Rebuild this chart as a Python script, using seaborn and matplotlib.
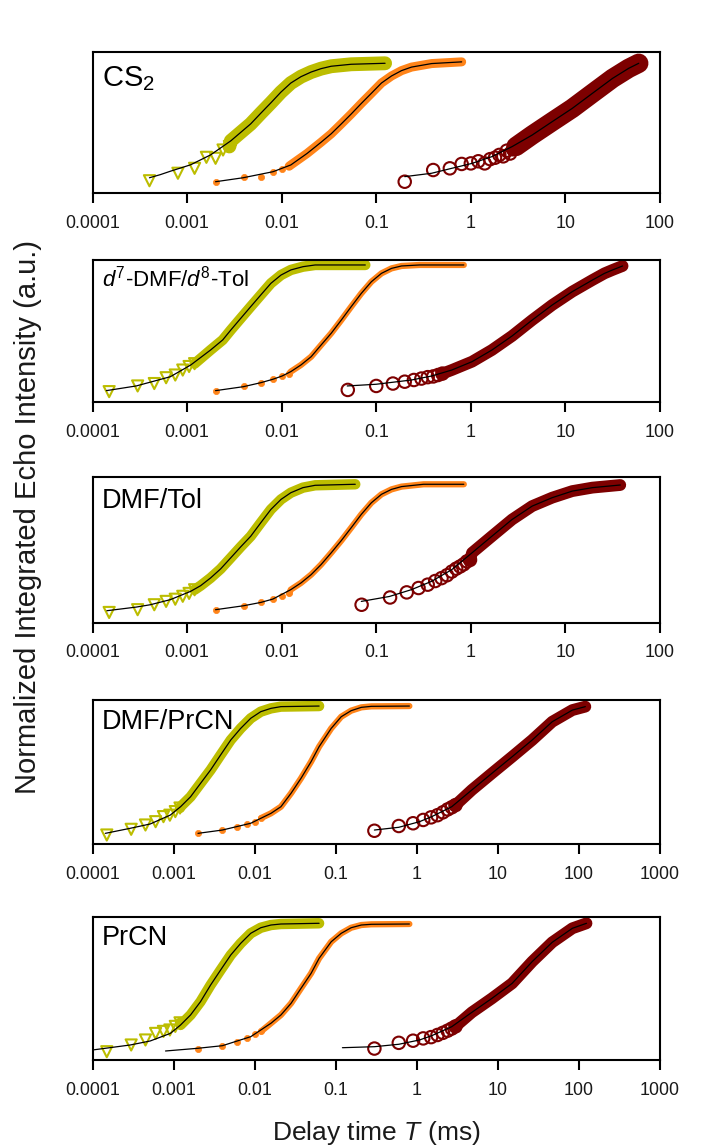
import matplotlib
matplotlib.use("Agg")
import matplotlib.pyplot as plt
from matplotlib.ticker import NullLocator, FixedLocator, FixedFormatter
import seaborn as sns

# ---------------- data ----------------
# Delay times T (ms) and normalized echo intensities I.
# *_FIT_* : fitted curve (black line); *_PTS_* : sparse early data points;
# the later data are dense and drawn as a band along the fitted curve.

# Panel 1: CS2
CS2_TRI_FIT_T = [0.0004, 0.00052, 0.00067, 0.00109, 0.00177, 0.0029, 0.0047, 0.006, 0.0077,
                 0.0098, 0.0125, 0.016, 0.0205, 0.0261, 0.0334, 0.0543, 0.124]
CS2_TRI_FIT_I = [0.108, 0.13, 0.155, 0.2, 0.27, 0.37, 0.49, 0.565, 0.64,
                 0.715, 0.78, 0.825, 0.858, 0.882, 0.899, 0.913, 0.92]
CS2_TRI_PTS_T = [0.0004, 0.0008, 0.0012, 0.0016, 0.002, 0.0024, 0.0028]
CS2_TRI_PTS_I = [0.087, 0.14, 0.175, 0.253, 0.246, 0.305, 0.33]
CS2_ORG_FIT_T = [0.002, 0.0039, 0.0081, 0.0125, 0.0186, 0.0261, 0.0334, 0.0427, 0.0543,
                 0.0695, 0.0888, 0.1135, 0.145, 0.185, 0.236, 0.385, 0.8]
CS2_ORG_FIT_I = [0.08, 0.108, 0.151, 0.199, 0.281, 0.36, 0.42, 0.49, 0.56,
                 0.635, 0.707, 0.78, 0.83, 0.868, 0.893, 0.918, 0.93]
CS2_ORG_PTS_T = [0.002, 0.004, 0.006, 0.008, 0.01, 0.012]
CS2_ORG_PTS_I = [0.08, 0.11, 0.11, 0.15, 0.17, 0.19]
CS2_RED_FIT_T = [0.2, 0.385, 0.628, 1.03, 1.67, 2.73, 4.45, 7.25, 11.8, 19.3, 31.5, 46.6, 59.6]
CS2_RED_FIT_I = [0.116, 0.14, 0.175, 0.21, 0.258, 0.329, 0.411, 0.506, 0.60, 0.707, 0.813,
                 0.884, 0.92]
CS2_RED_PTS_T = [0.2, 0.4, 0.6, 0.8, 1.0, 1.2, 1.4, 1.6, 1.8, 2.0, 2.2, 2.4, 2.6, 2.8, 3.0]
CS2_RED_PTS_I = [0.08, 0.163, 0.175, 0.206, 0.21, 0.225, 0.21, 0.24, 0.25, 0.27, 0.26,
                 0.3, 0.28, 0.31, 0.33]

# Panel 2: d7-DMF/d8-Tol
DTOL_TRI_FIT_T = [0.00014, 0.00029, 0.000665, 0.00109, 0.00177, 0.00238, 0.0029, 0.00369,
                  0.0047, 0.00602, 0.0077, 0.00984, 0.0125, 0.0168, 0.0226, 0.0766]
DTOL_TRI_FIT_I = [0.08, 0.113, 0.178, 0.26, 0.366, 0.437, 0.507, 0.589,
                  0.671, 0.754, 0.836, 0.894, 0.93, 0.953, 0.965, 0.965]
DTOL_TRI_PTS_T = [0.00015, 0.0003, 0.00045, 0.0006, 0.00075, 0.0009, 0.00105, 0.0012]
DTOL_TRI_PTS_I = [0.073, 0.113, 0.13, 0.171, 0.19, 0.225, 0.25, 0.27]
DTOL_ORG_FIT_T = [0.002, 0.00395, 0.00602, 0.00807, 0.0101, 0.0125, 0.016, 0.0205, 0.0261,
                  0.0334, 0.0427, 0.0543, 0.0695, 0.0888, 0.1135, 0.145, 0.185, 0.287, 0.843]
DTOL_ORG_FIT_I = [0.08, 0.108, 0.136, 0.16, 0.183, 0.214, 0.261, 0.319, 0.401,
                  0.484, 0.577, 0.671, 0.765, 0.847, 0.906, 0.941, 0.958, 0.965, 0.965]
DTOL_ORG_PTS_T = [0.002, 0.004, 0.006, 0.008, 0.01, 0.012]
DTOL_ORG_PTS_I = [0.08, 0.115, 0.136, 0.16, 0.185, 0.2]
DTOL_RED_FIT_T = [0.0493, 0.1, 0.236, 0.385, 0.628, 1.03, 1.67, 2.73, 4.45, 7.25, 11.8,
                  19.3, 25.9, 31.5, 40.2]
DTOL_RED_FIT_I = [0.113, 0.125, 0.155, 0.183, 0.225, 0.284, 0.366, 0.465, 0.577, 0.683,
                  0.777, 0.859, 0.906, 0.93, 0.958]
DTOL_RED_PTS_T = [0.05, 0.1, 0.15, 0.2, 0.25, 0.3, 0.35, 0.4, 0.45, 0.5]
DTOL_RED_PTS_I = [0.085, 0.113, 0.13, 0.143, 0.155, 0.165, 0.175, 0.18, 0.19, 0.2]

# Panel 3: DMF/Tol
TOL_TRI_FIT_T = [0.000142, 0.00029, 0.000408, 0.000665, 0.00109, 0.00139, 0.00177, 0.00226,
                 0.00289, 0.00369, 0.00471, 0.00602, 0.00769, 0.00984, 0.0125, 0.0168,
                 0.0226, 0.06]
TOL_TRI_FIT_I = [0.081, 0.106, 0.122, 0.157, 0.214, 0.253, 0.306, 0.368,
                 0.444, 0.52, 0.593, 0.686, 0.777, 0.846, 0.892, 0.927,
                 0.943, 0.95]
TOL_TRI_PTS_T = [0.00015, 0.0003, 0.00045, 0.0006, 0.00075, 0.0009, 0.00105, 0.0012]
TOL_TRI_PTS_I = [0.069, 0.088, 0.122, 0.145, 0.16, 0.18, 0.2, 0.225]
TOL_ORG_FIT_T = [0.002, 0.00395, 0.00602, 0.00807, 0.0125, 0.016, 0.0205, 0.0261, 0.0334,
                 0.0427, 0.0543, 0.0695, 0.0888, 0.1135, 0.145, 0.185, 0.316, 0.843]
TOL_ORG_FIT_I = [0.088, 0.115, 0.138, 0.161, 0.226, 0.272, 0.329, 0.398, 0.479,
                 0.563, 0.651, 0.743, 0.823, 0.881, 0.915, 0.934, 0.95, 0.95]
TOL_ORG_PTS_T = [0.002, 0.004, 0.006, 0.008, 0.01, 0.012]
TOL_ORG_PTS_I = [0.088, 0.11, 0.138, 0.16, 0.185, 0.2]
TOL_RED_FIT_T = [0.0695, 0.138, 0.236, 0.385, 0.628, 1.03, 1.67, 2.73, 4.45, 7.25, 11.8,
                 19.3, 38]
TOL_RED_FIT_I = [0.145, 0.179, 0.226, 0.283, 0.363, 0.479, 0.593, 0.708, 0.80, 0.858,
                 0.903, 0.927, 0.945]
TOL_RED_PTS_T = [0.07, 0.14, 0.21, 0.28, 0.35, 0.42, 0.49, 0.56, 0.63, 0.7, 0.77, 0.84,
                 0.91, 0.98]
TOL_RED_PTS_I = [0.122, 0.172, 0.207, 0.237, 0.26, 0.285, 0.305, 0.325, 0.35, 0.37, 0.385,
                 0.4, 0.42, 0.43]

# Panel 4: DMF/PrCN
DPR_TRI_FIT_T = [0.000144, 0.000292, 0.000515, 0.000912, 0.00122, 0.00162, 0.00215, 0.00286,
                 0.0038, 0.00507, 0.00673, 0.00895, 0.0119, 0.0159, 0.0211, 0.0624]
DPR_TRI_FIT_I = [0.074, 0.109, 0.139, 0.201, 0.259, 0.328, 0.421, 0.514,
                 0.618, 0.722, 0.803, 0.873, 0.919, 0.942, 0.954, 0.958]
DPR_TRI_PTS_T = [0.00015, 0.0003, 0.00045, 0.0006, 0.00075, 0.0009, 0.00105, 0.0012]
DPR_TRI_PTS_I = [0.0625, 0.102, 0.132, 0.155, 0.19, 0.2, 0.225, 0.25]
DPR_ORG_FIT_T = [0.002, 0.004, 0.00895, 0.0159, 0.0211, 0.0281, 0.0373, 0.0497, 0.0624,
                 0.088, 0.117, 0.155, 0.207, 0.275, 0.81]
DPR_ORG_FIT_I = [0.074, 0.097, 0.144, 0.213, 0.259, 0.352, 0.456, 0.572, 0.676,
                 0.803, 0.884, 0.926, 0.949, 0.956, 0.958]
DPR_ORG_PTS_T = [0.002, 0.004, 0.006, 0.008, 0.01, 0.012]
DPR_ORG_PTS_I = [0.074, 0.097, 0.12, 0.139, 0.155, 0.18]
DPR_RED_FIT_T = [0.3, 0.6, 1.08, 1.53, 2.7, 4.77, 8.45, 15, 26.5, 46.8, 83, 120]
DPR_RED_FIT_I = [0.097, 0.116, 0.155, 0.19, 0.259, 0.375, 0.491, 0.606, 0.722, 0.849,
                 0.93, 0.954]
DPR_RED_PTS_T = [0.3, 0.6, 0.9, 1.2, 1.5, 1.8, 2.1, 2.4, 2.7, 3.0]
DPR_RED_PTS_I = [0.092, 0.125, 0.144, 0.167, 0.185, 0.2, 0.22, 0.24, 0.255, 0.27]

# Panel 5: PrCN
PR_TRI_FIT_T = [0.0001, 0.000292, 0.000515, 0.000912, 0.00122, 0.00162, 0.00215, 0.00286,
                0.0038, 0.00507, 0.00673, 0.00895, 0.0119, 0.0159, 0.0211, 0.0624]
PR_TRI_FIT_I = [0.07, 0.105, 0.133, 0.186, 0.245, 0.315, 0.408, 0.524,
                0.629, 0.734, 0.816, 0.886, 0.925, 0.944, 0.951, 0.956]
PR_TRI_PTS_T = [0.00015, 0.0003, 0.00045, 0.0006, 0.00075, 0.0009, 0.00105, 0.0012]
PR_TRI_PTS_I = [0.058, 0.105, 0.14, 0.186, 0.2, 0.21, 0.235, 0.26]
PR_ORG_FIT_T = [0.000796, 0.002, 0.004, 0.00895, 0.0159, 0.0211, 0.0281, 0.0373, 0.0497,
                0.0624, 0.088, 0.117, 0.155, 0.207, 0.275, 0.81]
PR_ORG_FIT_I = [0.063, 0.082, 0.1, 0.163, 0.257, 0.315, 0.396, 0.501, 0.606,
                0.711, 0.827, 0.886, 0.925, 0.944, 0.949, 0.951]
PR_ORG_PTS_T = [0.002, 0.004, 0.006, 0.008, 0.01, 0.012]
PR_ORG_PTS_I = [0.077, 0.1, 0.123, 0.151, 0.18, 0.2]
PR_RED_FIT_T = [0.121, 0.3, 0.6, 1.08, 1.53, 2.7, 4.77, 8.45, 15, 26.5, 46.8, 83, 124]
PR_RED_FIT_I = [0.086, 0.093, 0.11, 0.14, 0.17, 0.233, 0.333, 0.431, 0.536, 0.688, 0.823,
                0.921, 0.956]
PR_RED_PTS_T = [0.3, 0.6, 0.9, 1.2, 1.5, 1.8, 2.1, 2.4, 2.7, 3.0]
PR_RED_PTS_I = [0.08, 0.12, 0.135, 0.151, 0.16, 0.175, 0.19, 0.205, 0.22, 0.235]

PANEL_LABELS = ["CS$_2$", "$d^7$-DMF/$d^8$-Tol", "DMF/Tol", "DMF/PrCN", "PrCN"]
TICKS_6 = [1e-4, 1e-3, 1e-2, 1e-1, 1, 10, 100]
TICKS_7 = [1e-4, 1e-3, 1e-2, 1e-1, 1, 10, 100, 1000]
TICK_LABELS_6 = ["0.0001", "0.001", "0.01", "0.1", "1", "10", "100"]
TICK_LABELS_7 = ["0.0001", "0.001", "0.01", "0.1", "1", "10", "100", "1000"]

# ---------------- style ----------------
sns.set_style("white")
plt.rcParams["font.family"] = ["Liberation Sans", "DejaVu Sans"]
plt.rcParams["mathtext.fontset"] = "custom"
plt.rcParams["mathtext.rm"] = "Liberation Sans"
plt.rcParams["mathtext.it"] = "Liberation Sans:italic"
plt.rcParams["mathtext.bf"] = "Liberation Sans:bold"

C_TRI = "#bcbd00"
C_ORG = "#ff8419"
C_RED = "#7d0000"

panels = [
    dict(series=[(CS2_TRI_FIT_T, CS2_TRI_FIT_I, CS2_TRI_PTS_T, CS2_TRI_PTS_I),
                 (CS2_ORG_FIT_T, CS2_ORG_FIT_I, CS2_ORG_PTS_T, CS2_ORG_PTS_I),
                 (CS2_RED_FIT_T, CS2_RED_FIT_I, CS2_RED_PTS_T, CS2_RED_PTS_I)],
         ticks=TICKS_6, labels=TICK_LABELS_6, top=52, bottom=193,
         band=(10, 6.5, 14), lab_fs=21, lab_y=0.755),
    dict(series=[(DTOL_TRI_FIT_T, DTOL_TRI_FIT_I, DTOL_TRI_PTS_T, DTOL_TRI_PTS_I),
                 (DTOL_ORG_FIT_T, DTOL_ORG_FIT_I, DTOL_ORG_PTS_T, DTOL_ORG_PTS_I),
                 (DTOL_RED_FIT_T, DTOL_RED_FIT_I, DTOL_RED_PTS_T, DTOL_RED_PTS_I)],
         ticks=TICKS_6, labels=TICK_LABELS_6, top=260, bottom=402,
         band=(7.5, 4.5, 8.5), lab_fs=16, lab_y=0.81),
    dict(series=[(TOL_TRI_FIT_T, TOL_TRI_FIT_I, TOL_TRI_PTS_T, TOL_TRI_PTS_I),
                 (TOL_ORG_FIT_T, TOL_ORG_FIT_I, TOL_ORG_PTS_T, TOL_ORG_PTS_I),
                 (TOL_RED_FIT_T, TOL_RED_FIT_I, TOL_RED_PTS_T, TOL_RED_PTS_I)],
         ticks=TICKS_6, labels=TICK_LABELS_6, top=477, bottom=622.5,
         band=(7.5, 4.5, 8.5), lab_fs=19.5, lab_y=0.79),
    dict(series=[(DPR_TRI_FIT_T, DPR_TRI_FIT_I, DPR_TRI_PTS_T, DPR_TRI_PTS_I),
                 (DPR_ORG_FIT_T, DPR_ORG_FIT_I, DPR_ORG_PTS_T, DPR_ORG_PTS_I),
                 (DPR_RED_FIT_T, DPR_RED_FIT_I, DPR_RED_PTS_T, DPR_RED_PTS_I)],
         ticks=TICKS_7, labels=TICK_LABELS_7, top=700, bottom=844,
         band=(7.5, 4.5, 8.5), lab_fs=19.5, lab_y=0.797),
    dict(series=[(PR_TRI_FIT_T, PR_TRI_FIT_I, PR_TRI_PTS_T, PR_TRI_PTS_I),
                 (PR_ORG_FIT_T, PR_ORG_FIT_I, PR_ORG_PTS_T, PR_ORG_PTS_I),
                 (PR_RED_FIT_T, PR_RED_FIT_I, PR_RED_PTS_T, PR_RED_PTS_I)],
         ticks=TICKS_7, labels=TICK_LABELS_7, top=917, bottom=1060,
         band=(7.5, 4.5, 8.5), lab_fs=19.5, lab_y=0.804),
]

W, H = 721, 1148
fig = plt.figure(figsize=(W / 100, H / 100), dpi=100)
LEFT, RIGHT = 92.5, 660

colors = [C_TRI, C_ORG, C_RED]
markers = ["v", "o", "o"]
sizes = [64, 20, 80]
filled = [False, True, False]

for p, label in zip(panels, PANEL_LABELS):
    ax = fig.add_axes([LEFT / W, 1 - p["bottom"] / H, (RIGHT - LEFT) / W,
                       (p["bottom"] - p["top"]) / H])
    ax.set_xscale("log")
    for k, (ft, fi, pt, pi) in enumerate(p["series"]):
        col = colors[k]
        # dense data band: from the last sparse point along the fitted curve
        bt = [pt[-1]] + [t for t in ft if t > pt[-1]]
        bi = [pi[-1]] + [v for t, v in zip(ft, fi) if t > pt[-1]]
        sns.lineplot(x=bt, y=bi, ax=ax, color=col, lw=p["band"][k],
                     sort=False, estimator=None, solid_capstyle="round",
                     solid_joinstyle="round", zorder=2)
        if filled[k]:
            sns.scatterplot(x=pt, y=pi, ax=ax, marker=markers[k], s=sizes[k],
                            color=col, edgecolor=col, linewidth=0.5, zorder=3)
        else:
            sns.scatterplot(x=pt, y=pi, ax=ax, marker=markers[k], s=sizes[k],
                            facecolor="none", edgecolor=col, linewidth=1.5,
                            zorder=3)
        sns.lineplot(x=ft, y=fi, ax=ax, color="black", lw=0.9, sort=False,
                     estimator=None, zorder=4)
    ax.set_xlim(p["ticks"][0], p["ticks"][-1])
    ax.set_ylim(0, 1)
    ax.xaxis.set_major_locator(FixedLocator(p["ticks"]))
    ax.xaxis.set_major_formatter(FixedFormatter(p["labels"]))
    ax.xaxis.set_minor_locator(NullLocator())
    ax.set_yticks([])
    ax.set_xlabel("")
    ax.set_ylabel("")
    ax.tick_params(axis="x", which="major", direction="out", length=7.5,
                   width=1.5, pad=8, labelsize=12.9, color="black",
                   labelcolor="#1a1a1a", bottom=True)
    for s in ax.spines.values():
        s.set_visible(True)
        s.set_linewidth(1.5)
        s.set_color("black")
    ax.text(0.016, p["lab_y"], label, transform=ax.transAxes, ha="left",
            va="baseline", fontsize=p["lab_fs"], color="black")

fig.text(376 / W, 1 - 1133 / H, "Delay time $T$ (ms)", ha="center",
         va="center", fontsize=19, color="#1a1a1a")
fig.text(28 / W, 1 - 517 / H, "Normalized Integrated Echo Intensity (a.u.)",
         ha="center", va="center", rotation=90, fontsize=21,
         color="#1a1a1a")

fig.savefig("out.png", dpi=100, facecolor="white")
